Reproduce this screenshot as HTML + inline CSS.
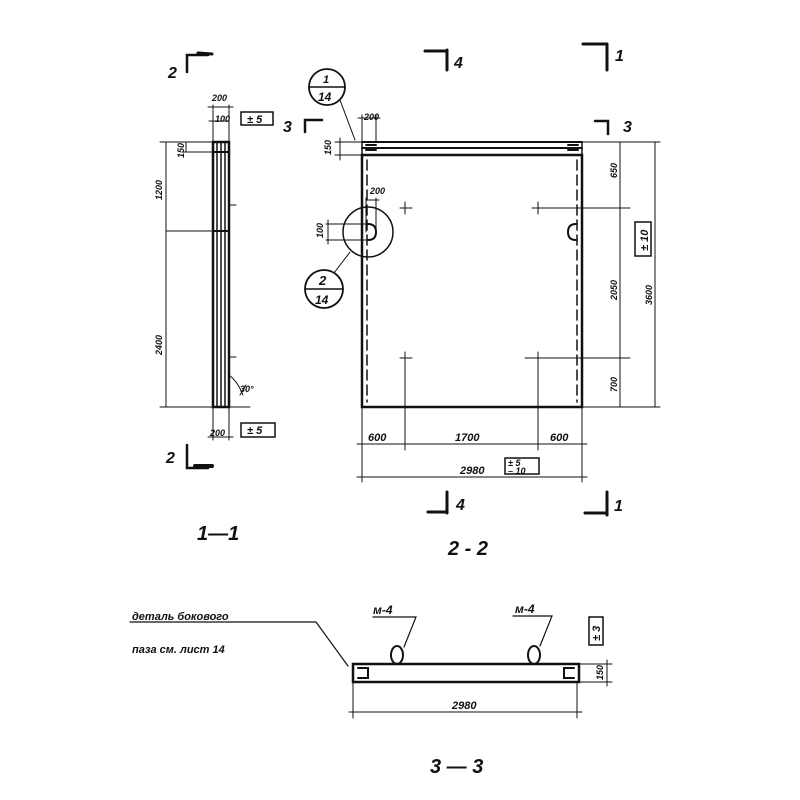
<!DOCTYPE html>
<html><head><meta charset="utf-8"><style>
html,body{margin:0;padding:0;background:#fff}
svg{display:block}
text{font-family:"Liberation Sans",sans-serif;font-style:italic;font-weight:bold;fill:#111}
.s{font-size:9px}.m{font-size:16px}.l{font-size:20px}
</style></head><body>
<svg width="800" height="800" viewBox="0 0 800 800" xmlns="http://www.w3.org/2000/svg" stroke="#111" fill="none" stroke-linecap="round">
<!-- Section markers top -->
<path d="M187 72 V55 H208" stroke-width="2.5"/><path d="M198 53 L212 54" stroke-width="3"/>
<text class="m" x="168" y="78" stroke="none">2</text>
<path d="M447 50 V70 M425 51 H447" stroke-width="3"/><text class="m" x="454" y="68" stroke="none">4</text>
<path d="M607 44 V70 M583 44 H607" stroke-width="3"/><text class="m" x="615" y="61" stroke="none">1</text>
<!-- 1-1 strip -->
<rect x="213" y="142" width="16" height="265" stroke-width="2.5"/>
<path d="M217 142 V407 M221 142 V407 M225 142 V407" stroke-width="1.5"/>
<path d="M213 152 H229 M213 231 H229" stroke-width="2"/>
<path d="M229 205 H236 M229 357 H236" stroke-width="1"/>
<path d="M166 142 V407 M160 142 H213 M166 231 H213 M160 407 H250" stroke-width="1"/>
<path d="M186 142 V152 M182 152 H213" stroke-width="1"/>
<text class="s" transform="translate(162,200) rotate(-90)" stroke="none">1200</text>
<text class="s" transform="translate(162,355) rotate(-90)" stroke="none">2400</text>
<text class="s" transform="translate(184,158) rotate(-90)" stroke="none">150</text>
<path d="M213 105 V142 M229 105 V142 M208 107 H233 M213 117 V122 M209 121 H229" stroke-width="1"/>
<text class="s" x="212" y="101" stroke="none">200</text><text class="s" x="215" y="122" stroke="none">100</text>
<rect x="241" y="112" width="32" height="13" stroke-width="1.5"/><text class="s" x="247" y="123" stroke="none" style="font-size:11px">± 5</text>
<path d="M213 407 V440 M229 407 V440 M208 437 H233" stroke-width="1"/>
<text class="s" x="210" y="436" stroke="none">200</text>
<rect x="241" y="423" width="34" height="14" stroke-width="1.5"/><text class="s" x="247" y="434" stroke="none" style="font-size:11px">± 5</text>
<path d="M229 375 Q238 382 243 395 M240 395 L246 385" stroke-width="1"/><text class="s" x="240" y="392" stroke="none">30°</text>
<path d="M187 445 V468 H208" stroke-width="2.5"/><path d="M195 466 L212 466" stroke-width="4"/>
<text class="m" x="166" y="463" stroke="none">2</text>
<!-- 2-2 panel -->
<path d="M362 142 H582 M362 148 H582" stroke-width="2"/>
<rect x="362" y="155" width="220" height="252" stroke-width="2.5"/>
<path d="M367 160 V402 M577 160 V402" stroke-width="1.5" stroke-dasharray="10 5"/>
<path d="M362 142 V155 M582 142 V155" stroke-width="1.5"/>
<path d="M366 145 H376 M366 150 H376 M568 145 H578 M568 150 H578" stroke-width="2"/>
<path d="M368 224 Q376 224 376 232 Q376 240 368 240 M576 224 Q568 224 568 232 Q568 240 576 240" stroke-width="2"/>
<!-- crosses -->
<path d="M400 208 H412 M405 202 V214 M538 202 V214 M532 208 H630 M400 358 H412 M405 352 V450 M538 352 V450 M525 358 H630" stroke-width="1"/>
<!-- right dims -->
<path d="M582 142 H660 M582 407 H660 M620 142 V407 M655 142 V407" stroke-width="1"/>
<text class="s" transform="translate(617,178) rotate(-90)" stroke="none">650</text>
<text class="s" transform="translate(617,300) rotate(-90)" stroke="none">2050</text>
<text class="s" transform="translate(617,392) rotate(-90)" stroke="none">700</text>
<text class="s" transform="translate(652,305) rotate(-90)" stroke="none">3600</text>
<rect x="635" y="222" width="16" height="34" stroke-width="1.5"/><text class="s" transform="translate(648,251) rotate(-90)" stroke="none" style="font-size:11px">± 10</text>
<!-- bottom dims -->
<path d="M362 407 V482 M582 407 V482 M357 444 H587 M357 477 H587" stroke-width="1"/>
<text class="s" x="368" y="441" stroke="none" style="font-size:11px">600</text>
<text class="s" x="455" y="441" stroke="none" style="font-size:11px">1700</text>
<text class="s" x="550" y="441" stroke="none" style="font-size:11px">600</text>
<text class="s" x="460" y="474" stroke="none" style="font-size:11px">2980</text>
<rect x="505" y="458" width="34" height="16" stroke-width="1.5"/><text class="s" x="508" y="466" stroke="none">± 5</text><text class="s" x="508" y="474" stroke="none">– 10</text>
<!-- top dims of panel -->
<path d="M335 142 H362 M335 155 H362 M340 138 V160 M362 115 V142 M376 115 V142 M358 118 H380" stroke-width="1"/>
<text class="s" x="364" y="120" stroke="none">200</text>
<text class="s" transform="translate(331,155) rotate(-90)" stroke="none">150</text>
<path d="M305 132 V120 H322" stroke-width="2.5"/><text class="m" x="283" y="132" stroke="none">3</text>
<path d="M595 121 H608 V134" stroke-width="2.5"/><text class="m" x="623" y="132" stroke="none">3</text>
<!-- callouts -->
<circle cx="327" cy="87" r="18" stroke-width="1.8"/><path d="M310 87 H344" stroke-width="1.5"/>
<text class="s" x="323" y="83" stroke="none" style="font-size:11px">1</text><text class="s" x="318" y="101" stroke="none" style="font-size:12px">14</text>
<path d="M340 100 L355 140" stroke-width="1"/>
<circle cx="368" cy="232" r="25" stroke-width="1.5"/>
<circle cx="324" cy="289" r="19" stroke-width="1.8"/><path d="M306 289 H342" stroke-width="1.5"/>
<text class="s" x="319" y="285" stroke="none" style="font-size:13px">2</text><text class="s" x="315" y="304" stroke="none" style="font-size:12px">14</text>
<path d="M334 273 L350 252" stroke-width="1"/>
<path d="M366 198 V232 M376 198 V232 M366 200 H379" stroke-width="1"/><text class="s" x="370" y="194" stroke="none">200</text>
<path d="M326 224 H366 M326 240 H366 M328 220 V244" stroke-width="1"/>
<text class="s" transform="translate(323,238) rotate(-90)" stroke="none">100</text>
<!-- bottom section markers -->
<path d="M447 492 V513 M428 512 H447" stroke-width="3"/><text class="m" x="456" y="510" stroke="none">4</text>
<path d="M607 492 V515 M585 513 H607" stroke-width="3"/><text class="m" x="614" y="511" stroke="none">1</text>
<text class="l" x="197" y="540" stroke="none">1—1</text>
<text class="l" x="448" y="555" stroke="none">2 - 2</text>
<!-- 3-3 -->
<path d="M130 622 H316 L348 666" stroke-width="1.2"/>
<text class="s" x="132" y="620" stroke="none" style="font-size:11px">деталь бокового</text>
<text class="s" x="132" y="653" stroke="none" style="font-size:11px">паза см. лист 14</text>
<rect x="353" y="664" width="226" height="18" stroke-width="2.5"/>
<path d="M358 668 H368 V678 H358 M574 668 H564 V678 H574" stroke-width="2"/>
<ellipse cx="397" cy="655" rx="6" ry="9" stroke-width="2"/>
<ellipse cx="534" cy="655" rx="6" ry="9" stroke-width="2"/>
<path d="M373 617 H416 L404 647 M513 616 H552 L540 646" stroke-width="1.2"/>
<text class="s" x="373" y="614" stroke="none" style="font-size:12px">м-4</text>
<text class="s" x="515" y="613" stroke="none" style="font-size:12px">м-4</text>
<path d="M353 682 V718 M577 682 V718 M349 712 H582" stroke-width="1"/>
<text class="s" x="452" y="709" stroke="none" style="font-size:11px">2980</text>
<path d="M579 664 H612 M579 682 H612 M607 660 V686" stroke-width="1"/>
<text class="s" transform="translate(603,680) rotate(-90)" stroke="none">150</text>
<rect x="589" y="617" width="14" height="28" stroke-width="1.5"/><text class="s" transform="translate(600,641) rotate(-90)" stroke="none" style="font-size:11px">± 3</text>
<text class="l" x="430" y="773" stroke="none">3 — 3</text>
</svg>
</body></html>
